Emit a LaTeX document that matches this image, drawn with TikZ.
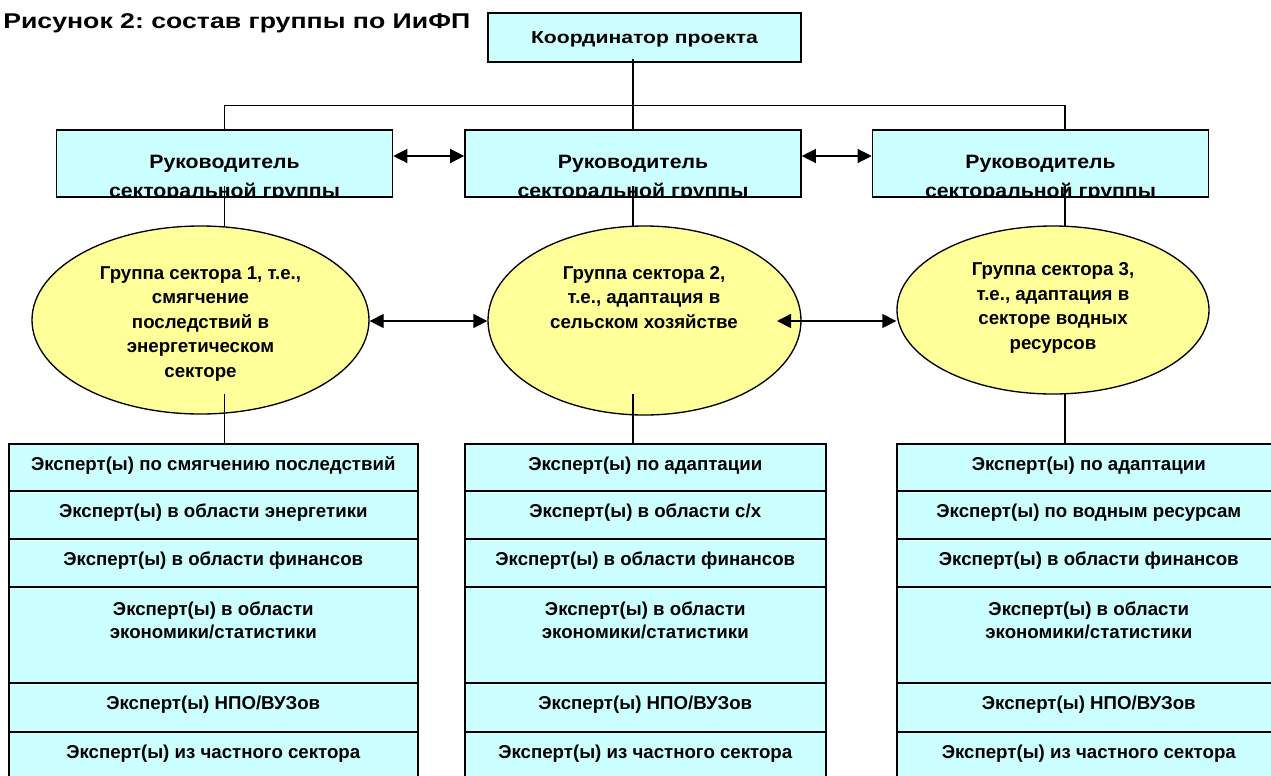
\documentclass[tikz,border=0pt]{standalone}
\usepackage{fontspec}
\setmainfont{Liberation Sans}
\newfontfamily\ttlfont{Liberation Sans}[FakeStretch=1.25]
\newfontfamily\coordfont{Liberation Sans}[FakeStretch=1.22]
\newfontfamily\leadfont{Liberation Sans}[FakeStretch=1.1]
\usetikzlibrary{arrows.meta,shapes.geometric}
\definecolor{boxcyan}{HTML}{CCFFFF}
\definecolor{ellyellow}{HTML}{FFFF99}
\frenchspacing
\tikzset{
  box/.style={draw=black, line width=1.2pt, fill=boxcyan, inner sep=0pt},
  ell/.style={ellipse, draw=black, line width=1pt, fill=ellyellow, inner sep=0pt},
  conn/.style={draw=black, line width=1pt},
  biarrow/.style={conn, {Triangle[length=10.5pt,width=10.5pt]}-{Triangle[length=10.5pt,width=10.5pt]}},
  txt/.style={font=\frenchspacing\bfseries\fontsize{14pt}{17.25pt}\selectfont, align=center, inner sep=0pt},
  ctxt/.style={txt, font=\coordfont\bfseries\fontsize{13pt}{16pt}\selectfont},
  ltxt/.style={txt, font=\leadfont\bfseries\fontsize{14.5pt}{21.75pt}\selectfont},
  etxt/.style={txt, font=\frenchspacing\bfseries\fontsize{14pt}{18.3pt}\selectfont},
  ttl/.style={font=\frenchspacing\ttlfont\bfseries\fontsize{16pt}{18pt}\selectfont, inner sep=0pt},
}
\newcommand{\exrow}[7]{%
  \node[box, anchor=north west, minimum width=#4*0.75pt, minimum height=#5*0.75pt] (#1) at (#2,#3) {};
  \node[txt, anchor=base] (#1t) at ([yshift=-#7]#1.north) {#6};
}
\begin{document}
\begin{tikzpicture}[x=0.75pt,y=-0.75pt]
\useasboundingbox (0,0) rectangle (1271,775);
\clip (0,0) rectangle (1271,775);
\fill[white] (0,0) rectangle (1271,775);

\node[ttl, anchor=base west] (title) at (3,28) {Рисунок 2: состав группы по ИиФП};

\node[box, minimum width=234.75pt, minimum height=36.75pt] (coord) at (644.5,37.5) {};
\node[ctxt, anchor=base] (coordt) at (644.5,43) {Координатор проекта};

\foreach \n/\cx in {lead1/224.5, lead2/633, lead3/1040.5} {
  \node[box, minimum width=252pt, minimum height=50.25pt] (\n) at (\cx,163.5) {};
  \begin{scope}
    \clip ([xshift=0.6pt,yshift=0.6pt]\n.south west) rectangle ([xshift=-0.6pt,yshift=-0.6pt]\n.north east);
    \node[ltxt, anchor=base] (\n-t) at (\cx,197) {Руководитель\\секторальной группы};
  \end{scope}
}

\coordinate (rline) at (1065,0);
\draw[conn] ([yshift=3pt]coord.south -| lead2.north) -- (lead2.north);
\draw[conn] (lead1.north) -- ++(0,-24) -| (lead3.north -| rline);

\coordinate (ay) at (0,156);
\draw[biarrow] (lead1.east |- ay) -- (lead2.west |- ay);
\draw[biarrow] (lead2.east |- ay) -- (lead3.west |- ay);

\draw[conn] ([yshift=9pt]lead1.south) -- ++(0,55);
\draw[conn] ([yshift=9pt]lead2.south) -- ++(0,55);
\draw[conn] ([yshift=9pt]lead3.south -| rline) -- ++(0,55);

\node[ell, minimum width=252.75pt, minimum height=141pt] (ell1) at (200.5,320) {};
\node[ell, minimum width=234.75pt, minimum height=141.75pt] (ell2) at (644.5,320.5) {};
\node[ell, minimum width=234pt, minimum height=126pt] (ell3) at (1053,310) {};

\node[etxt, anchor=base] (ell1t) at (200.5,377) {Группа сектора 1, т.е.,\\смягчение\\последствий в\\энергетическом\\секторе};
\node[etxt, anchor=base] (ell2t) at (644,328) {Группа сектора 2,\\т.е., адаптация в\\сельском хозяйстве};
\node[etxt, anchor=base] (ell3t) at (1053,349) {Группа сектора 3,\\т.е., адаптация в\\секторе водных\\ресурсов};

\coordinate (ey) at (0,321);
\draw[biarrow] (ell1.east |- ey) -- (ell2.west |- ey);
\coordinate (a2) at (777,321);
\draw[biarrow] (a2) -- (a2 -| ell3.west);

\coordinate (ly) at (0,394);
\coordinate (ty) at (0,443);
\draw[conn] (lead1.south |- ly) -- (lead1.south |- ty);
\draw[conn] (lead2.south |- ly) -- (lead2.south |- ty);
\draw[conn] (rline |- ly) -- (rline |- ty);

\exrow{a1}{8}{443}{409}{47}{Эксперт(ы) по смягчению последствий}{20.25pt}
\exrow{a2}{8}{490}{409}{48}{Эксперт(ы) в области энергетики}{20.25pt}
\exrow{a3}{8}{538}{409}{48}{Эксперт(ы) в области финансов}{20.25pt}
\exrow{a4}{8}{586}{409}{96}{Эксперт(ы) в области\\экономики/статистики}{39pt}
\exrow{a5}{8}{682}{409}{49}{Эксперт(ы) НПО/ВУЗов}{20.25pt}
\exrow{a6}{8}{731}{409}{48}{Эксперт(ы) из частного сектора}{20.25pt}

\exrow{b1}{464}{443}{361}{47}{Эксперт(ы) по адаптации}{20.25pt}
\exrow{b2}{464}{490}{361}{48}{Эксперт(ы) в области с/х}{20.25pt}
\exrow{b3}{464}{538}{361}{48}{Эксперт(ы) в области финансов}{20.25pt}
\exrow{b4}{464}{586}{361}{96}{Эксперт(ы) в области\\экономики/статистики}{39pt}
\exrow{b5}{464}{682}{361}{49}{Эксперт(ы) НПО/ВУЗов}{20.25pt}
\exrow{b6}{464}{731}{361}{48}{Эксперт(ы) из частного сектора}{20.25pt}

\exrow{c1}{896}{443}{384}{47}{Эксперт(ы) по адаптации}{20.25pt}
\exrow{c2}{896}{490}{384}{48}{Эксперт(ы) по водным ресурсам}{20.25pt}
\exrow{c3}{896}{538}{384}{48}{Эксперт(ы) в области финансов}{20.25pt}
\exrow{c4}{896}{586}{384}{96}{Эксперт(ы) в области\\экономики/статистики}{39pt}
\exrow{c5}{896}{682}{384}{49}{Эксперт(ы) НПО/ВУЗов}{20.25pt}
\exrow{c6}{896}{731}{384}{48}{Эксперт(ы) из частного сектора}{20.25pt}
\end{tikzpicture}
\end{document}
